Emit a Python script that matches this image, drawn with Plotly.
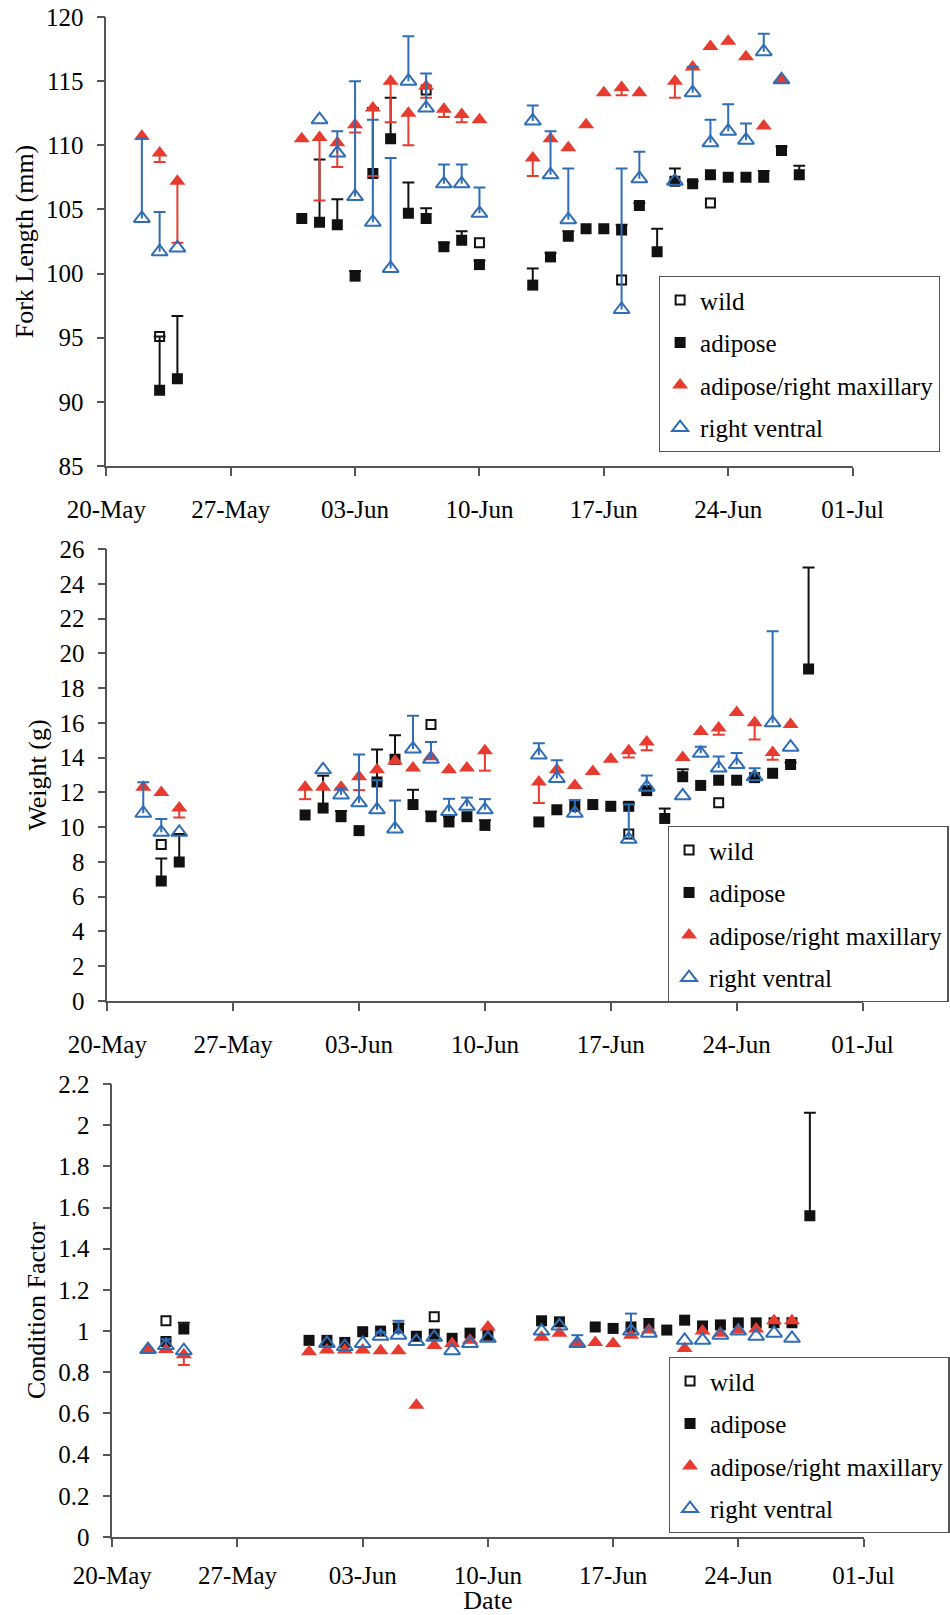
import pandas as pd
import plotly.graph_objects as go

YEAR = 2005
FONT = "Liberation Serif"
RED = "#E63B2E"
BLUE = "#2F6DB5"
BLACK = "#111111"
AXIS = "#555555"

# ---------------- Fork length (mm) ----------------
fl_wild_dates = ["05-23", "06-07", "06-10", "06-18", "06-23"]
fl_wild = [95.1, 114.3, 102.4, 99.5, 105.5]

fl_adi_dates = ["05-23", "05-24", "05-31", "06-01", "06-02", "06-03", "06-04", "06-05",
                "06-06", "06-07", "06-08", "06-09", "06-10", "06-13", "06-14", "06-15",
                "06-16", "06-17", "06-18", "06-19", "06-20", "06-21", "06-22", "06-23",
                "06-24", "06-25", "06-26", "06-27", "06-28"]
fl_adi = [90.9, 91.8, 104.3, 104.0, 103.8, 99.8, 107.8, 110.5, 104.7, 104.3, 102.1, 102.6,
          100.7, 99.1, 101.3, 102.9, 103.5, 103.5, 103.4, 105.3, 101.7, 107.2, 107.0, 107.7,
          107.5, 107.5, 107.5, 109.6, 107.7]
fl_adi_se = [4.2, 4.9, 0, 4.9, 2.0, 0.4, 5.1, 3.2, 2.4, 0.8, 0.3, 0.7, 0.3, 1.3, 0.3, 0.4,
             0, 0, 0.4, 0.2, 1.8, 1.0, 0.2, 0, 0, 0, 0.5, 0.3, 0.7]

fl_rm_dates = ["05-22", "05-23", "05-24", "05-31", "06-01", "06-02", "06-03", "06-04",
               "06-05", "06-06", "06-07", "06-08", "06-09", "06-10", "06-13", "06-14",
               "06-15", "06-16", "06-17", "06-18", "06-19", "06-21", "06-22", "06-23",
               "06-24", "06-25", "06-26", "06-27"]
fl_rm = [110.7, 109.4, 107.2, 110.5, 110.6, 110.2, 111.6, 112.9, 115.0, 112.5, 114.6, 112.8,
         112.4, 112.0, 109.0, 110.5, 109.8, 111.6, 114.1, 114.5, 114.1, 115.0, 116.1, 117.7,
         118.1, 116.9, 111.5, 115.1]
fl_rm_se = [0, 0.7, 4.8, 0, 4.9, 1.9, 0.6, 5.3, 3.2, 2.5, 0.9, 0.6, 0.6, 0, 1.4, 0, 0, 0,
            0, 0.6, 0, 1.3, 0, 0, 0, 0, 0, 0]

fl_rv_dates = ["05-22", "05-23", "05-24", "06-01", "06-02", "06-03", "06-04", "06-05",
               "06-06", "06-07", "06-08", "06-09", "06-10", "06-13", "06-14", "06-15",
               "06-18", "06-19", "06-21", "06-22", "06-23", "06-24", "06-25", "06-26",
               "06-27"]
fl_rv = [104.3, 101.7, 102.0, 112.0, 109.4, 106.0, 104.0, 100.4, 115.0, 112.9, 107.0, 107.0,
         104.7, 111.9, 107.7, 104.2, 97.2, 107.4, 107.2, 114.1, 110.2, 111.1, 110.4, 117.3,
         115.1]
fl_rv_se = [6.2, 3.1, 0, 0, 1.7, 9.0, 8.0, 8.6, 3.5, 2.7, 1.5, 1.5, 2.0, 1.2, 3.4, 4.0,
            11.0, 2.1, 0, 2.0, 1.8, 2.1, 1.3, 1.4, 0]

# ---------------- Weight (g) ----------------
wt_wild_dates = ["05-23", "06-07", "06-18", "06-23"]
wt_wild = [9.0, 15.9, 9.6, 11.4]

wt_adi_dates = fl_adi_dates
wt_adi = [6.9, 8.0, 10.7, 11.1, 10.6, 9.8, 12.6, 13.9, 11.3, 10.6, 10.3, 10.6, 10.1, 10.3,
          11.0, 11.2, 11.3, 11.2, 11.2, 12.1, 10.5, 12.9, 12.4, 12.7, 12.7, 12.85, 13.1,
          13.6, 19.1]
wt_adi_se = [1.3, 1.6, 0, 1.86, 0.33, 0, 1.86, 1.38, 0.85, 0.3, 0.3, 0, 0.3, 0, 0, 0, 0,
             0, 0.2, 0.2, 0.57, 0.43, 0, 0, 0, 0, 0, 0.12, 5.84]

wt_rm_dates = fl_rm_dates
wt_rm = [12.3, 12.0, 11.1, 12.3, 12.3, 12.3, 12.9, 13.3, 13.8, 13.4, 14.05, 13.3, 13.4, 14.4,
         12.6, 13.3, 12.4, 13.2, 13.9, 14.4, 14.9, 14.0, 15.5, 15.7, 16.6, 16.0, 14.3, 15.9]
wt_rm_se = [0, 0, 0.54, 0.69, 0, 0, 0.77, 0, 0, 0, 0, 0, 0, 1.15, 1.21, 0, 0, 0, 0, 0.39,
            0.48, 0, 0, 0.39, 0, 0.96, 0.42, 0]

wt_rv_dates = fl_rv_dates
wt_rv = [10.8, 9.7, 9.7, 13.3, 11.85, 11.4, 11.0, 9.9, 14.5, 13.9, 10.9, 11.2, 11.0, 14.15,
         12.8, 10.8, 9.3, 12.3, 11.8, 14.25, 13.4, 13.6, 12.9, 16.0, 14.6]
wt_rv_se = [1.78, 0.77, 0, 0, 0.38, 2.78, 1.7, 1.63, 1.91, 1.0, 0.73, 0.5, 0.61, 0.67, 1.05,
            0.76, 2.01, 0.67, 0, 0.38, 0.66, 0.67, 0.49, 5.27, 0]

# ---------------- Condition factor ----------------
cf_wild_dates = ["05-23", "06-07"]
cf_wild = [1.05, 1.07]

cf_adi_dates = ["05-23", "05-24", "05-31", "06-01", "06-02", "06-03", "06-04", "06-05",
                "06-06", "06-07", "06-08", "06-09", "06-10", "06-13", "06-14", "06-16",
                "06-17", "06-18", "06-19", "06-20", "06-21", "06-22", "06-23", "06-24",
                "06-25", "06-26", "06-27", "06-28"]
cf_adi = [0.95, 1.01, 0.955, 0.955, 0.945, 0.997, 1.0, 1.015, 0.975, 0.985, 0.965, 0.99,
          0.98, 1.05, 1.045, 1.02, 1.013, 1.02, 1.037, 1.005, 1.053, 1.025, 1.03, 1.04,
          1.04, 1.04, 1.04, 1.56]
cf_adi_se = [0, 0.03, 0, 0, 0, 0, 0, 0.02, 0, 0, 0, 0, 0, 0, 0, 0, 0, 0, 0, 0, 0, 0, 0, 0,
             0, 0, 0, 0.50]

cf_rm_dates = fl_rm_dates
cf_rm = [0.91, 0.91, 0.885, 0.90, 0.908, 0.908, 0.908, 0.905, 0.905, 0.64, 0.93, 0.94,
         0.955, 1.02, 0.97, 0.99, 0.94, 0.945, 0.94, 0.98, 1.005, 0.915, 1.0, 0.99, 1.005,
         1.01, 1.05, 1.05]
cf_rm_se = [0, 0, 0.05, 0, 0, 0, 0, 0, 0, 0, 0, 0, 0, 0, 0, 0, 0, 0, 0, 0, 0, 0, 0, 0, 0,
            0, 0, 0]

cf_rv_dates = fl_rv_dates
cf_rv = [0.91, 0.93, 0.905, 0.94, 0.925, 0.94, 0.975, 0.98, 0.95, 0.97, 0.905, 0.94, 0.965,
         1.0, 1.025, 0.94, 1.0, 0.99, 0.955, 0.955, 0.98, 1.0, 0.975, 0.99, 0.965]
cf_rv_se = [0, 0.03, 0, 0, 0, 0, 0.02, 0.07, 0, 0, 0, 0, 0, 0, 0, 0.04, 0.085, 0, 0, 0, 0,
            0, 0, 0, 0]

# ---------------- Axis ticks ----------------
date_ticks = ["05-20", "05-27", "06-03", "06-10", "06-17", "06-24", "07-01"]
date_tick_text = ["20-May", "27-May", "03-Jun", "10-Jun", "17-Jun", "24-Jun", "01-Jul"]
fl_ticks = [85, 90, 95, 100, 105, 110, 115, 120]
wt_ticks = [0, 2, 4, 6, 8, 10, 12, 14, 16, 18, 20, 22, 24, 26]
cf_ticks = [0, 0.2, 0.4, 0.6, 0.8, 1, 1.2, 1.4, 1.6, 1.8, 2, 2.2]
cf_tick_text = ["0", "0.2", "0.4", "0.6", "0.8", "1", "1.2", "1.4", "1.6", "1.8", "2", "2.2"]

series_names = ["wild", "adipose", "adipose/right maxillary", "right ventral"]


def to_dates(md):
    return [pd.Timestamp(f"{YEAR}-{s}") for s in md]


CAP = pd.Timedelta(hours=8)


def error_lines(dates, vals, errs, sign):
    """One-sided error bars (vertical stem plus a cap) as a single line path."""
    xs, ys = [], []
    for t, v, e in zip(to_dates(dates), vals, errs):
        if not e:
            continue
        end = v + sign * e
        xs += [t, t, None, t - CAP, t + CAP, None]
        ys += [v, end, None, end, end, None]
    return xs, ys


fig = go.Figure()

panels = [
    ("x", "y", "legend",
     (fl_wild_dates, fl_wild),
     (fl_adi_dates, fl_adi, fl_adi_se),
     (fl_rm_dates, fl_rm, fl_rm_se),
     (fl_rv_dates, fl_rv, fl_rv_se)),
    ("x2", "y2", "legend2",
     (wt_wild_dates, wt_wild),
     (wt_adi_dates, wt_adi, wt_adi_se),
     (wt_rm_dates, wt_rm, wt_rm_se),
     (wt_rv_dates, wt_rv, wt_rv_se)),
    ("x3", "y3", "legend3",
     (cf_wild_dates, cf_wild),
     (cf_adi_dates, cf_adi, cf_adi_se),
     (cf_rm_dates, cf_rm, cf_rm_se),
     (cf_rv_dates, cf_rv, cf_rv_se)),
]

for xa, ya, leg, wild, adi, rm, rv in panels:
    # wild fish (no error bars)
    fig.add_trace(go.Scatter(
        x=to_dates(wild[0]), y=wild[1], mode="markers", name=series_names[0],
        xaxis=xa, yaxis=ya, legend=leg, legendgroup=f"{leg}-wild",
        marker=dict(symbol="square-open", size=9, color=BLACK, line=dict(width=2, color=BLACK)),
    ))
    # adipose clipped: bars upward
    ex, ey = error_lines(adi[0], adi[1], adi[2], +1)
    fig.add_trace(go.Scatter(x=ex, y=ey, mode="lines", xaxis=xa, yaxis=ya, showlegend=False,
                             line=dict(color=BLACK, width=2), hoverinfo="skip"))
    fig.add_trace(go.Scatter(
        x=to_dates(adi[0]), y=adi[1], mode="markers", name=series_names[1],
        xaxis=xa, yaxis=ya, legend=leg, legendgroup=f"{leg}-adi",
        marker=dict(symbol="square", size=11, color=BLACK),
    ))
    # adipose / right maxillary: bars downward
    ex, ey = error_lines(rm[0], rm[1], rm[2], -1)
    fig.add_trace(go.Scatter(x=ex, y=ey, mode="lines", xaxis=xa, yaxis=ya, showlegend=False,
                             line=dict(color=RED, width=2), hoverinfo="skip"))
    fig.add_trace(go.Scatter(
        x=to_dates(rm[0]), y=rm[1], mode="markers", name=series_names[2],
        xaxis=xa, yaxis=ya, legend=leg, legendgroup=f"{leg}-rm",
        marker=dict(symbol="triangle-up", size=14, color=RED),
    ))
    # right ventral: bars upward
    ex, ey = error_lines(rv[0], rv[1], rv[2], +1)
    fig.add_trace(go.Scatter(x=ex, y=ey, mode="lines", xaxis=xa, yaxis=ya, showlegend=False,
                             line=dict(color=BLUE, width=2), hoverinfo="skip"))
    fig.add_trace(go.Scatter(
        x=to_dates(rv[0]), y=rv[1], mode="markers", name=series_names[3],
        xaxis=xa, yaxis=ya, legend=leg, legendgroup=f"{leg}-rv",
        marker=dict(symbol="triangle-up-open", size=14, color=BLUE, line=dict(width=2, color=BLUE)),
    ))

W, H = 950, 1615
tick_font = dict(family=FONT, size=25, color="black")
title_font = dict(family=FONT, size=26, color="black")


def xaxis_style(x0, x1, anchor, standoff=12, title=None):
    d = dict(
        domain=[x0 / W, x1 / W], anchor=anchor, type="date",
        range=[pd.Timestamp(f"{YEAR}-{date_ticks[0]}"), pd.Timestamp(f"{YEAR}-{date_ticks[-1]}")],
        tickmode="array", tickvals=to_dates(date_ticks), ticktext=date_tick_text,
        showline=True, linecolor=AXIS, linewidth=1.5, ticks="outside", ticklen=8,
        tickwidth=1.5, tickcolor=AXIS, showgrid=False, zeroline=False, automargin=False,
        tickfont=tick_font, ticklabelstandoff=standoff,
    )
    if title:
        d["title"] = dict(text=title, font=title_font, standoff=3)
    return d


def yaxis_style(top, bottom, anchor, rng, ticks, text, title):
    return dict(
        domain=[1 - bottom / H, 1 - top / H], anchor=anchor, range=rng,
        tickmode="array", tickvals=ticks, ticktext=text,
        showline=True, linecolor=AXIS, linewidth=1.5, ticks="outside", ticklen=8,
        tickwidth=1.5, tickcolor=AXIS, showgrid=False, zeroline=False, automargin=False,
        tickfont=tick_font, ticklabelstandoff=8,
        title=dict(text=title, font=title_font, standoff=5),
    )


legend_base = dict(
    font=dict(family=FONT, size=25, color="black"), bgcolor="white",
    bordercolor=AXIS, borderwidth=1.3, tracegroupgap=7,
    xanchor="left", yanchor="top", itemwidth=30,
)

fig.update_layout(
    width=W, height=H, template="none",
    margin=dict(l=0, r=0, t=0, b=0),
    paper_bgcolor="white", plot_bgcolor="white",
    font=dict(family=FONT, size=25, color="black"),
    xaxis=xaxis_style(107, 858, "y"),
    yaxis=yaxis_style(17, 466, "x", [85, 120], fl_ticks, [str(v) for v in fl_ticks],
                      "Fork Length (mm)"),
    xaxis2=xaxis_style(108, 868, "y2"),
    yaxis2=yaxis_style(549, 1001, "x2", [0, 26], wt_ticks, [str(v) for v in wt_ticks],
                       "Weight (g)"),
    xaxis3=xaxis_style(113, 869, "y3", standoff=7, title="Date"),
    yaxis3=yaxis_style(1084, 1537, "x3", [0, 2.2], cf_ticks, cf_tick_text, "Condition Factor"),
    legend=dict(legend_base, x=663 / W, y=1 - 276 / H),
    legend2=dict(legend_base, x=672 / W, y=1 - 826 / H),
    legend3=dict(legend_base, x=673 / W, y=1 - 1357 / H),
    hovermode="closest",
)

fig.write_html("out.html")
